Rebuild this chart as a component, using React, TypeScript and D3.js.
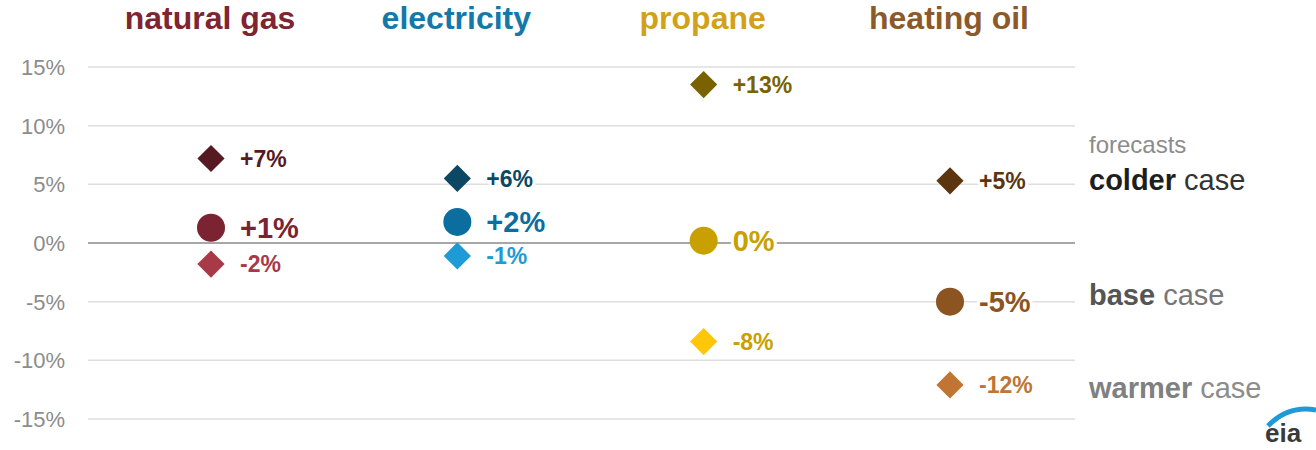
import { scaleLinear, scalePoint, symbol, symbolSquare } from "d3";

const fuels = ["natural gas", "electricity", "propane", "heating oil"];
const cases = ["colder", "base", "warmer"];
const colderValues = [7.2, 5.5, 13.5, 5.3];
const baseValues = [1.3, 1.8, 0.2, -5.0];
const warmerValues = [-1.8, -1.1, -8.4, -12.1];
const colderLabels = ["+7%", "+6%", "+13%", "+5%"];
const baseLabels = ["+1%", "+2%", "0%", "-5%"];
const warmerLabels = ["-2%", "-1%", "-8%", "-12%"];
const yTicks = [15, 10, 5, 0, -5, -10, -15];

const titleColors = ["#7d2631", "#1479a8", "#d2a11a", "#8c5a2a"];
const colderColors = ["#561a22", "#0c4863", "#7a6200", "#5c3410"];
const baseColors = ["#7b2330", "#0b6e9e", "#c8a000", "#8b5420"];
const warmerColors = ["#a83a47", "#1e9ad6", "#ffc60a", "#c07532"];
const warmerTextColors = ["#a83a47", "#1e9ad6", "#c8a000", "#c07532"];

const W = 1316;
const H = 450;

export default function App() {
    const y = scaleLinear().domain([-15, 15]).range([419, 67]);
    const x = scalePoint<string>().domain(fuels).range([211, 950]);
    const diamond = symbol().type(symbolSquare).size(370)() as string;
    const font = "Arial, 'Liberation Sans', sans-serif";

    const series = [
        { key: cases[0], values: colderValues, labels: colderLabels, fill: colderColors, text: colderColors, big: false },
        { key: cases[1], values: baseValues, labels: baseLabels, fill: baseColors, text: baseColors, big: true },
        { key: cases[2], values: warmerValues, labels: warmerLabels, fill: warmerColors, text: warmerTextColors, big: false },
    ];

    return (
        <svg width={W} height={H} style={{ position: "absolute", left: 0, top: 0 }} fontFamily={font}>
            <rect width={W} height={H} fill="#fff" />
            {yTicks.map((t) => (
                <g key={`tick-${t}`}>
                    <line x1={88} x2={1075} y1={y(t)} y2={y(t)} stroke={t === 0 ? "#8a8a8a" : "#dedede"} strokeWidth={1.5} />
                    <text x={65} y={y(t)} dy="0.36em" textAnchor="end" fontSize={22} fill="#8c8c8c">{`${t}%`}</text>
                </g>
            ))}
            {fuels.map((f, i) => (
                <text key={`title-${f}`} x={(x(f) as number) - 1} y={29} textAnchor="middle" fontWeight="bold" fontSize={32} fill={titleColors[i]}>{f}</text>
            ))}
            {series.map((s) => (
                <g key={`series-${s.key}`}>
                    {fuels.map((f, i) => {
                        const cx = x(f) as number;
                        const cy = y(s.values[i]);
                        return (
                            <g key={`${s.key}-${f}`}>
                                {s.big ? (
                                    <circle cx={cx} cy={cy} r={14} fill={s.fill[i]} />
                                ) : (
                                    <path d={diamond} transform={`translate(${cx},${cy}) rotate(45)`} fill={s.fill[i]} />
                                )}
                                <text
                                    x={cx + 29}
                                    y={cy}
                                    dy="0.36em"
                                    fontWeight="bold"
                                    fontSize={s.big ? 29 : 23}
                                    fill={s.text[i]}
                                    stroke="#fff"
                                    strokeWidth={6}
                                    paintOrder="stroke"
                                    strokeLinejoin="round"
                                >{s.labels[i]}</text>
                            </g>
                        );
                    })}
                </g>
            ))}
            <text x={1089} y={153} fontSize={24} fill="#8c8c8c">forecasts</text>
            <text x={1089} y={190} fontSize={29} fill="#333">
                <tspan fontWeight="bold" fill="#1e1e1e">colder</tspan> case
            </text>
            <text x={1089} y={305} fontSize={29} fill="#777">
                <tspan fontWeight="bold" fill="#555">base</tspan> case
            </text>
            <text x={1089} y={398} fontSize={29} fill="#8c8c8c">
                <tspan fontWeight="bold" fill="#808080">warmer</tspan> case
            </text>
            <g>
                <path d="M1268,426 Q1288,405 1316,410" fill="none" stroke="#1e9ad6" strokeWidth={5} />
                <text x={1265} y={442} fontSize={26} fontWeight="600" fill="#3a3a3a">eia</text>
            </g>
        </svg>
    );
}
